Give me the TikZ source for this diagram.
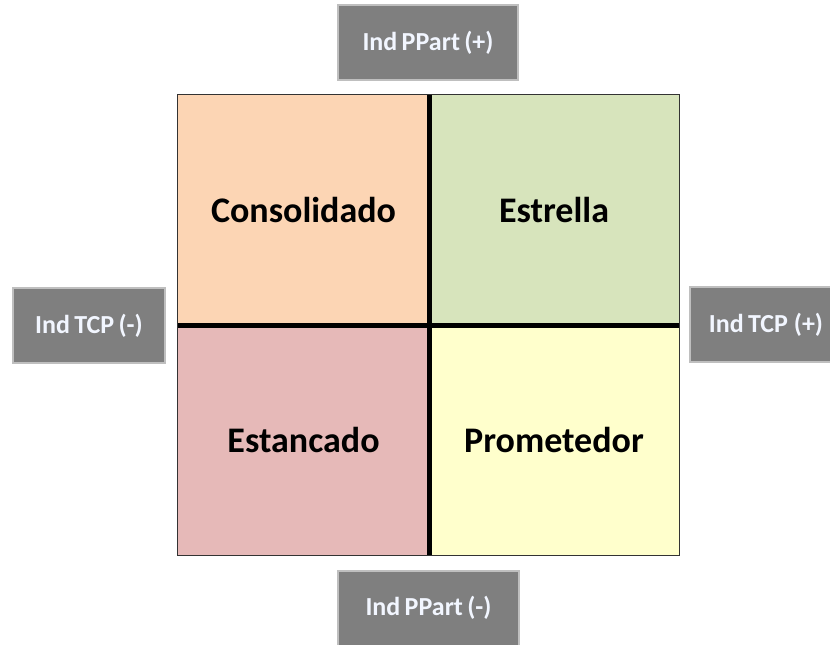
\documentclass[tikz,border=0pt]{standalone}
\usepackage{fontspec}
\setmainfont{Carlito}
\definecolor{cons}{HTML}{FCD5B4}
\definecolor{estr}{HTML}{D7E4BC}
\definecolor{estan}{HTML}{E6B9B8}
\definecolor{prom}{HTML}{FFFFCC}
\definecolor{boxgray}{HTML}{7F7F7F}
\definecolor{boxedge}{HTML}{BFBFBF}
\definecolor{lbl}{HTML}{F2F6FF}
\tikzset{
  cell/.style={minimum width=251pt, minimum height=230pt, inner sep=0pt, font=\bfseries\fontsize{36}{40}\selectfont, text=black},
  axisbox/.style={fill=boxgray, draw=boxedge, line width=2pt, minimum height=75pt, inner sep=0pt, font=\bfseries\fontsize{26}{30}\selectfont, text=lbl},
}
\begin{document}
\begin{tikzpicture}[x=1pt,y=-1pt]
\useasboundingbox (0,0) rectangle (830,645);
\fill[white] (0,0) rectangle (830,645);
\begin{scope}
\clip (0,0) rectangle (830,645);
\node[cell, fill=cons]  (c1) at (303.5,210) {Consolidado};
\node[cell, fill=estr, minimum width=250pt]  (c2) at (554,210) {Estrella};
\node[cell, fill=estan] (c3) at (303.5,440) {Estancado};
\node[cell, fill=prom, minimum width=250pt]  (c4) at (554,440) {Prometedor};
\draw[line width=1pt, black!80] (c1.north west) rectangle (c4.south east);
\draw[line width=5pt] (c1.north east) -- (c3.south east);
\draw[line width=5pt] (c1.south west) -- (c2.south east);
\node[axisbox, minimum width=180pt] (top) at (428,42.5) {Ind\,PPart\,(+)};
\node[axisbox, minimum width=152pt] (left) at (89,325.5) {Ind\,TCP\,(-)};
\node[axisbox, minimum width=152pt] (right) at (766,324.5) {Ind\,TCP (+)};
\node[axisbox, minimum width=181pt] (bottom) at (428.5,608) {Ind\,PPart\,(-)};
\end{scope}
\end{tikzpicture}
\end{document}
